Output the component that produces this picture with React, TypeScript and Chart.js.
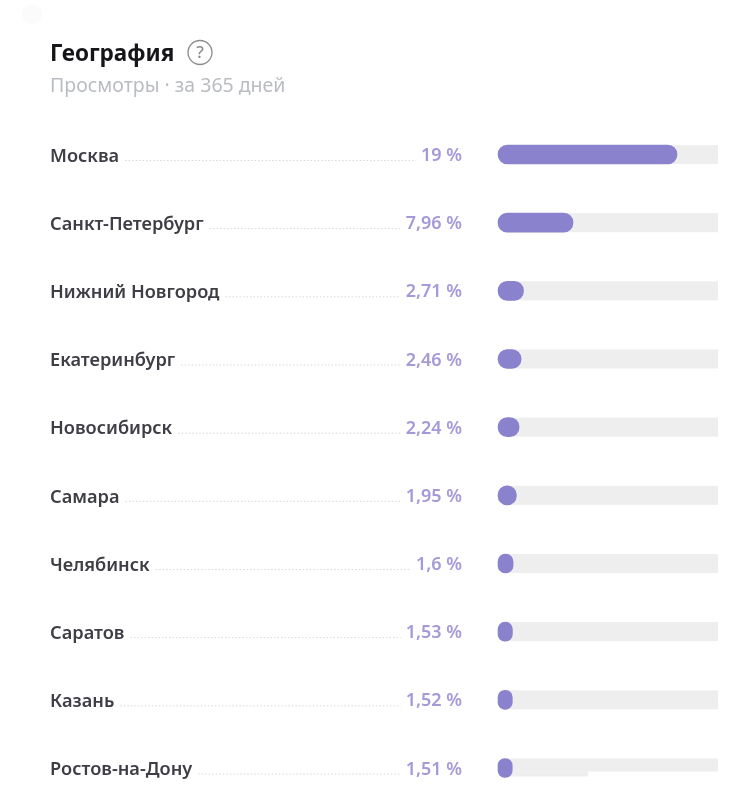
import React, { useEffect, useRef } from "react";
import { Chart, registerables } from "chart.js";

Chart.register(...registerables);

const cities = ["Москва", "Санкт-Петербург", "Нижний Новгород", "Екатеринбург", "Новосибирск", "Самара", "Челябинск", "Саратов", "Казань", "Ростов-на-Дону"];
const shares = [19, 7.96, 2.71, 2.46, 2.24, 1.95, 1.6, 1.53, 1.52, 1.51];
const AXIS_MAX = 23.35;
const TITLE = "География";
const SUBTITLE = "Просмотры · за 365 дней";

const FONT = '"Noto Sans", sans-serif';
const fmt = (v: number) => String(v).replace(".", ",") + " %";

const decor = {
  id: "decor",
  beforeDatasetsDraw(chart: any) {
    const { ctx, scales } = chart;
    const { x, y } = scales;
    ctx.save();
    ctx.fillStyle = "#eeeeee";
    const start = x.left + 8;
    cities.forEach((_, i) => {
      const c = y.getPixelForValue(i);
      if (i === cities.length - 1) {
        ctx.fillRect(start, c - 9.5, x.right - start, 13);
        ctx.fillRect(start, c + 3.5, 82, 5);
      } else {
        ctx.fillRect(start, c - 9.5, x.right - start, 19);
      }
    });
    ctx.restore();
  },
  afterDatasetsDraw(chart: any) {
    const { ctx, scales } = chart;
    const { y } = scales;
    ctx.save();
    ctx.textBaseline = "middle";
    cities.forEach((name, i) => {
      const c = y.getPixelForValue(i);
      ctx.font = `600 18.2px ${FONT}`;
      const nameW = ctx.measureText(name).width;
      const label = fmt(shares[i]);
      ctx.font = `600 18px ${FONT}`;
      const valW = ctx.measureText(label).width;
      ctx.textAlign = "right";
      ctx.fillStyle = "#a39ad9";
      ctx.fillText(label, 462, c + 1.5);
      ctx.strokeStyle = "#d8d8d8";
      ctx.lineWidth = 1;
      ctx.setLineDash([1.5, 2]);
      ctx.beginPath();
      ctx.moveTo(50 + nameW + 6, c + 6);
      ctx.lineTo(462 - valW - 5, c + 6);
      ctx.stroke();
      ctx.setLineDash([]);
    });
    // help icon next to the title
    ctx.strokeStyle = "#8c8c8c";
    ctx.lineWidth = 1.3;
    ctx.beginPath();
    ctx.arc(200, 52.5, 12, 0, Math.PI * 2);
    ctx.stroke();
    ctx.fillStyle = "#8c8c8c";
    ctx.font = `500 17px ${FONT}`;
    ctx.textAlign = "center";
    ctx.fillText("?", 200, 53);
    // faint mark in the top-left corner of the screenshot
    ctx.fillStyle = "#fbfbfb";
    ctx.beginPath();
    ctx.arc(32, 14, 10, 0, Math.PI * 2);
    ctx.fill();
    ctx.restore();
  },
};

export default function App() {
  const ref = useRef<HTMLCanvasElement>(null);
  useEffect(() => {
    document.body.style.margin = "0";
    document.body.style.background = "#ffffff";
    const chart = new Chart(ref.current!, {
      type: "bar",
      data: {
        labels: cities,
        datasets: [
          {
            label: "Просмотры, %",
            data: shares,
            backgroundColor: "#8a82cc",
            borderRadius: 10,
            borderSkipped: false,
            barThickness: 19,
            clip: false as any,
          },
        ],
      },
      plugins: [decor],
      options: {
        indexAxis: "y",
        animation: false,
        responsive: false,
        layout: { padding: { left: 50, right: 12, top: 41, bottom: 20 } },
        plugins: {
          legend: { display: false },
          tooltip: { enabled: false },
          title: {
            display: true,
            text: TITLE,
            align: "start",
            color: "#16161a",
            font: { family: FONT, size: 22.5, weight: "bold", lineHeight: 1.2 },
            padding: { top: 0, bottom: 6.5 },
          },
          subtitle: {
            display: true,
            text: SUBTITLE,
            align: "start",
            color: "#b9bdc2",
            font: { family: FONT, size: 19.5, weight: "normal", lineHeight: 1.2 },
            padding: { top: 0, bottom: 56.6 },
          },
        },
        scales: {
          x: { min: 0, max: AXIS_MAX, display: false, grid: { display: false } },
          y: {
            offset: false,
            grid: { display: false },
            border: { display: false },
            afterFit(scale: any) {
              scale.width = 448;
            },
            ticks: {
              crossAlign: "far",
              padding: 0,
              labelOffset: 2,
              color: "#3e3e46",
              autoSkip: false,
              font: { family: FONT, size: 18.2, weight: "600" },
            },
          },
        },
      },
    });
    return () => chart.destroy();
  }, []);
  return (
    <div style={{ width: 730, height: 788, overflow: "hidden", position: "relative" }}>
      <canvas ref={ref} width={730} height={788} style={{ display: "block", filter: "blur(0.6px)" }} />
    </div>
  );
}
